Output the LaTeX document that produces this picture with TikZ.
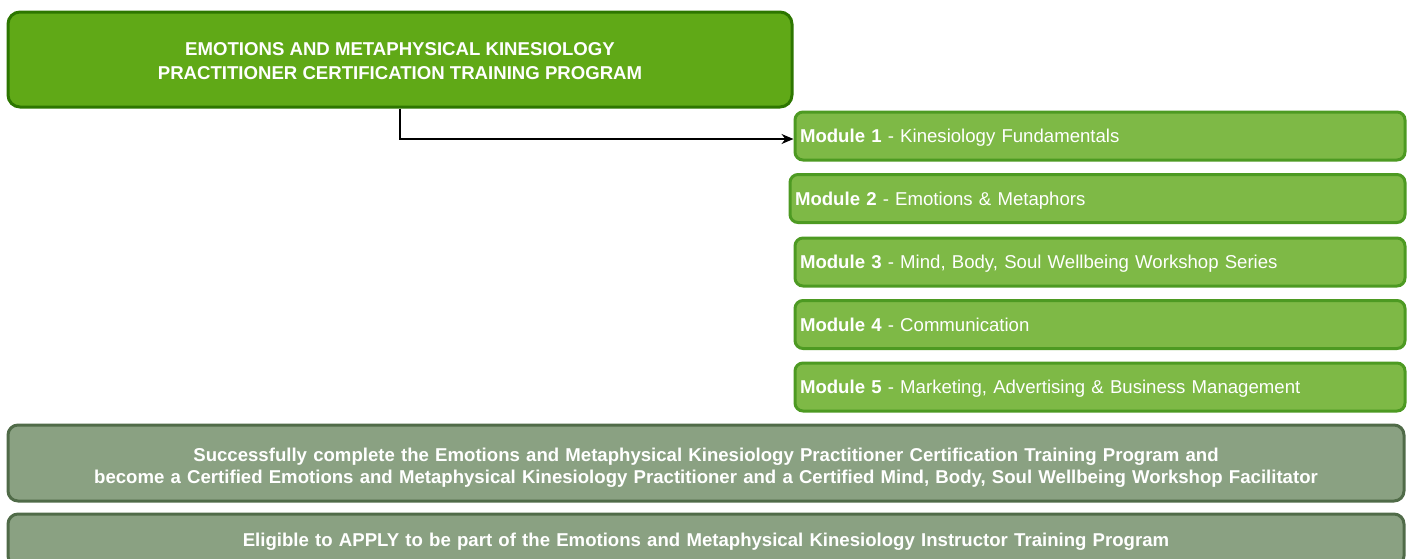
\documentclass[tikz,border=0pt]{standalone}
\usepackage{fontspec}
\setmainfont{Liberation Sans}
\usetikzlibrary{arrows.meta,positioning}

\definecolor{progfill}{HTML}{60A917}
\definecolor{progdraw}{HTML}{2D7600}
\definecolor{modfill}{HTML}{7EB946}
\definecolor{moddraw}{HTML}{4D9A22}
\definecolor{certfill}{HTML}{8AA182}
\definecolor{certdraw}{HTML}{506B48}

\begin{document}
\begin{tikzpicture}[x=0.5pt,y=-0.5pt,node distance=31.25pt,>={Stealth[length=6pt,width=5pt]}]
    \tikzstyle{program}=[rectangle,rounded corners=6pt,line width=1.5pt,draw=progdraw,
    fill=progfill,text=white,font=\fontsize{9.3}{12}\selectfont\bfseries,align=center,
    minimum width=392pt,minimum height=47.5pt,text height=21pt,text depth=1.5pt]
    \tikzstyle{module}=[rectangle,rounded corners=4pt,line width=1.5pt,draw=moddraw,
    fill=modfill,text=white,font=\fontsize{9.3}{11.5}\selectfont,align=left,
    text width=300pt,inner xsep=2.5pt,minimum height=24pt,text depth=0pt]
    \tikzstyle{outcome}=[rectangle,rounded corners=5pt,line width=1.5pt,draw=certdraw,
    fill=certfill,text=white,font=\fontsize{9.3}{11}\selectfont\bfseries,align=center,
    text width=690pt,inner xsep=4pt,text depth=0pt]

    \useasboundingbox (0,0) rectangle (1408,558);
    \clip (0,0) rectangle (1408,558);

    \node [program] (prog) at (400,59.5)
      {EMOTIONS AND METAPHYSICAL KINESIOLOGY\\PRACTITIONER CERTIFICATION TRAINING PROGRAM};

    \node [module] (m1) at (1100,136) {\textbf{Module 1} - Kinesiology Fundamentals};
    \node [module,xshift=-1.25pt,text width=302.5pt] (m2) [below of=m1]
      {\textbf{Module 2} - Emotions \& Metaphors};
    \node [module] (m3) [below of=m1,yshift=-31.75pt]
      {\textbf{Module 3} - Mind, Body, Soul Wellbeing Workshop Series};
    \node [module] (m4) [below of=m3] {\textbf{Module 4} - Communication};
    \node [module] (m5) [below of=m4]
      {\textbf{Module 5} - Marketing, Advertising \& Business Management};

    \node [outcome,minimum height=38pt,text depth=8pt] (cert) at (706,463)
      {Successfully complete the Emotions and Metaphysical Kinesiology Practitioner Certification Training Program and\\
       become a Certified Emotions and Metaphysical Kinesiology Practitioner and a Certified Mind, Body, Soul Wellbeing Workshop Facilitator};
    \node [outcome,minimum height=26pt] (apply) at (706,540)
      {Eligible to APPLY to be part of the Emotions and Metaphysical Kinesiology Instructor Training Program};

    \draw [->,line width=0.65pt] (prog.south) |- ([yshift=-1.5pt]m1.west);

  \end{tikzpicture}
\end{document}
